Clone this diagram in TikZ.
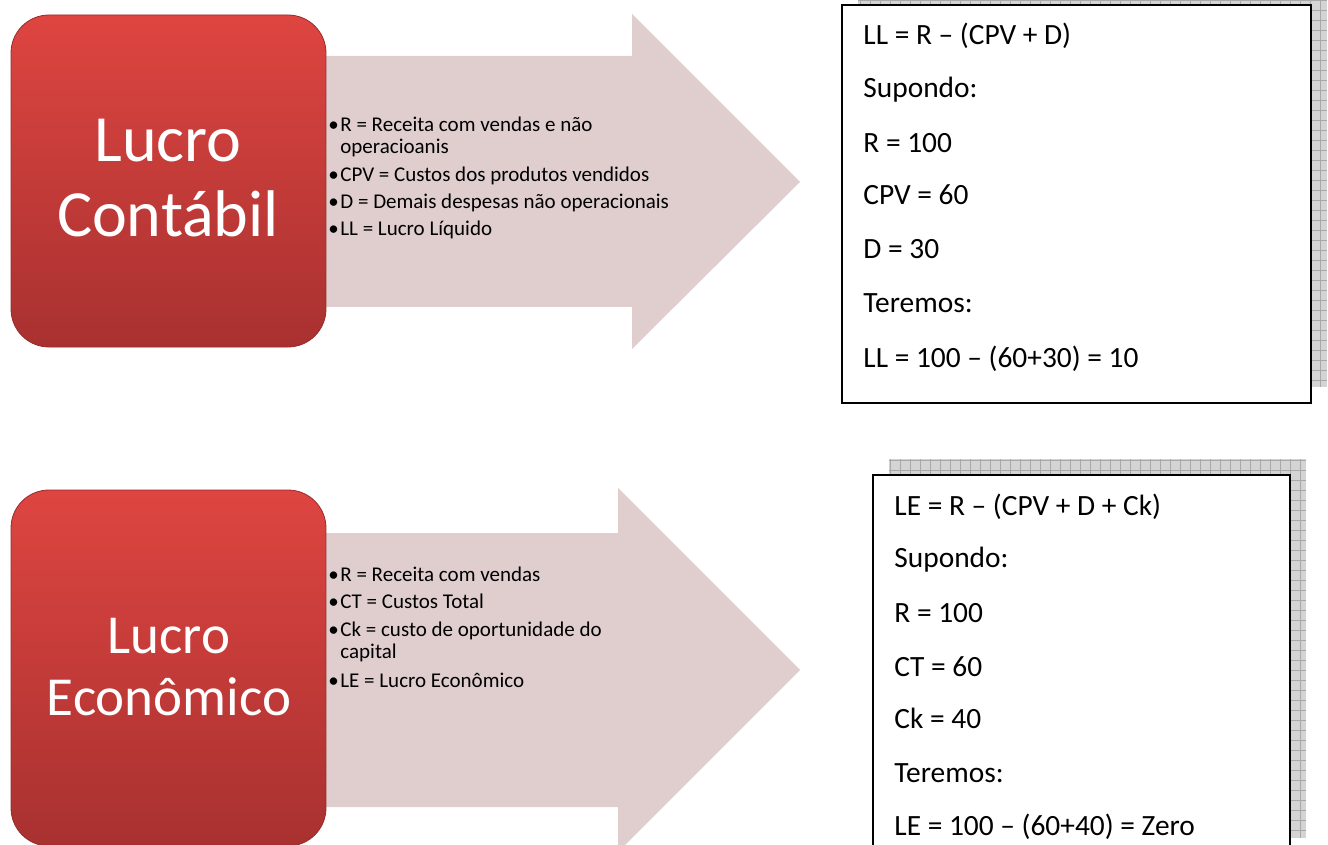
\documentclass[tikz,border=0pt]{standalone}
\usepackage{fontspec}
\setmainfont{Carlito}
\usetikzlibrary{positioning}
\definecolor{lucrotop}{RGB}{222,69,65}
\definecolor{lucrobottom}{RGB}{168,49,48}
\definecolor{arrowpink}{RGB}{224,206,207}
\definecolor{gridfill}{RGB}{212,212,212}
\definecolor{gridline}{RGB}{168,168,168}
\tikzset{
  titlebox/.style={rounded corners=19pt, top color=lucrotop, bottom color=lucrobottom, draw=lucrobottom!90!black, line width=0.4pt},
  bigarrow/.style={fill=arrowpink},
  titletext/.style={anchor=base, inner sep=0pt, text=white},
  itemtext/.style={anchor=base west, inner sep=0pt, font=\fontsize{10.5}{12}\selectfont},
  calcline/.style={anchor=base west, inner sep=0pt, font=\fontsize{14.7}{17}\selectfont},
  gridshadow/.style={fill=gridfill},
}
\newcommand{\bul}{\makebox[6pt][l]{\textbullet}}
\begin{document}
\begin{tikzpicture}[x=0.5pt, y=-0.5pt]
\useasboundingbox (0,0) rectangle (1328,845); % page = reference size
\clip (0,0) rectangle (1328,845);

% ---- Lucro Contabil ----
\fill [bigarrow] (300,56) -- (632,56) -- (632,14) -- (800,182)
                 -- (632,349) -- (632,307) -- (300,307) -- cycle;
\path [titlebox] (11,15) rectangle (326,347);
\node [titletext, font=\fontsize{33}{37}\selectfont] (lucroA) at (168,162) {Lucro};
\node [titletext, font=\fontsize{33}{37}\selectfont] (contabil) at (168,237) {Contábil};

\node [itemtext] (itemR) at (328,132) {\bul R = Receita com vendas e não};
\node [itemtext] (itemRb) at (340,154) {operacioanis};
\node [itemtext] (itemCPV) at (328,182) {\bul CPV = Custos dos produtos vendidos};
\node [itemtext] (itemD) at (328,209) {\bul D = Demais despesas não operacionais};
\node [itemtext] (itemLL) at (328,236) {\bul LL = Lucro Líquido};

\fill [gridshadow] (858,-11) rectangle (1327,387);
\draw [gridline, step=5pt] (858,-11) grid (1327,387);
\filldraw [fill=white, line width=1pt] (842,5) rectangle (1311,403);
\node [calcline] (llform) at (863,45) {LL = R – (CPV + D)};
\node [calcline] (supA) at (863,98) {Supondo:};
\node [calcline] (rA) at (863,153) {R = 100};
\node [calcline] (cpvA) at (863,205) {CPV = 60};
\node [calcline] (dA) at (863,259) {D = 30};
\node [calcline] (terA) at (863,313) {Teremos:};
\node [calcline] (llres) at (863,367) {LL = 100 – (60+30) = 10};

% ---- Lucro Economico ----
\fill [bigarrow] (300,533) -- (618,533) -- (618,488) -- (800,670)
                 -- (618,852) -- (618,807) -- (300,807) -- cycle;
\path [titlebox] (11,490) rectangle (326,846);
\node [titletext, font=\fontsize{27.5}{31}\selectfont] (lucroB) at (169,653) {Lucro};
\node [titletext, font=\fontsize{27.5}{31}\selectfont] (economico) at (169,715) {Econômico};

\node [itemtext] (itemRe) at (328,581) {\bul R = Receita com vendas};
\node [itemtext] (itemCT) at (328,608) {\bul CT = Custos Total};
\node [itemtext] (itemCk) at (328,636) {\bul Ck = custo de oportunidade do};
\node [itemtext] (itemCkb) at (340,658) {capital};
\node [itemtext] (itemLE) at (328,687) {\bul LE = Lucro Econômico};

\fill [gridshadow] (889,459) rectangle (1306,838);
\draw [gridline, step=5pt] (889,459) grid (1306,838);
\filldraw [fill=white, line width=1pt] (873,475) rectangle (1290,860);
\node [calcline] (leform) at (894,515) {LE = R – (CPV + D + Ck)};
\node [calcline] (supB) at (894,567) {Supondo:};
\node [calcline] (rB) at (894,622) {R = 100};
\node [calcline] (ctB) at (894,676) {CT = 60};
\node [calcline] (ckB) at (894,728) {Ck = 40};
\node [calcline] (terB) at (894,782) {Teremos:};
\node [calcline] (leres) at (894,835) {LE = 100 – (60+40) = Zero};
\end{tikzpicture}
\end{document}
